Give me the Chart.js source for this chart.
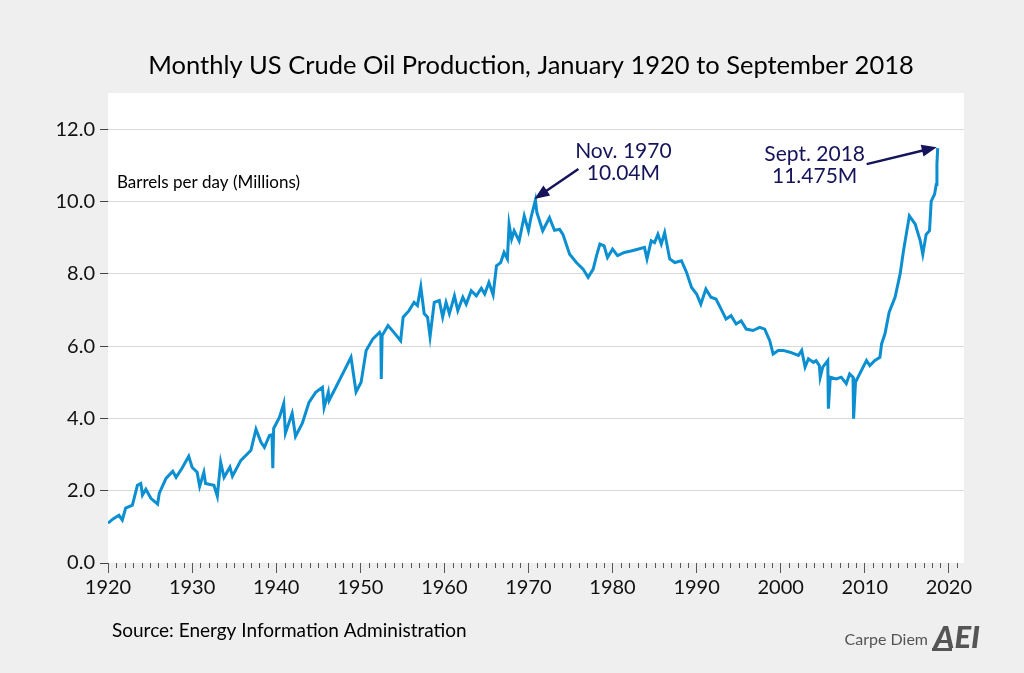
<!DOCTYPE html>
<html>
<head>
<meta charset="utf-8">
<script src="https://cdn.jsdelivr.net/npm/chart.js@4"></script>
<style>
  html, body { margin: 0; padding: 0; background: #efefef; }
  #wrap { width: 1024px; height: 673px; }
</style>
</head>
<body>
<div id="wrap"><canvas id="chart" width="1024" height="673"></canvas></div>
<script>
// monthly US crude oil production, million barrels per day
const years = [
  1920.0, 1920.6, 1921.3, 1921.7, 1922.1, 1922.9, 1923.5, 1923.9, 1924.1, 1924.5,
  1925.1, 1925.9, 1926.1, 1926.9, 1927.7, 1928.1, 1928.8, 1929.6, 1930.0, 1930.6,
  1930.9, 1931.4, 1931.6, 1932.0, 1932.6, 1933.0, 1933.4, 1933.8, 1934.5, 1934.8,
  1935.8, 1937.0, 1937.6, 1938.2, 1938.6, 1939.2, 1939.5, 1939.6, 1939.7, 1940.4,
  1940.9, 1941.1, 1941.9, 1942.3, 1943.1, 1943.9, 1944.7, 1945.5, 1945.7, 1946.2,
  1946.3, 1947.1, 1948.1, 1948.9, 1949.5, 1950.1, 1950.7, 1951.5, 1952.3, 1952.45,
  1952.5, 1952.6, 1953.3, 1954.0, 1954.8, 1955.1, 1955.8, 1956.4, 1956.8, 1957.2,
  1957.6, 1958.0, 1958.3, 1958.8, 1959.4, 1959.8, 1960.2, 1960.6, 1961.2, 1961.6,
  1962.2, 1962.6, 1963.2, 1963.8, 1964.4, 1964.8, 1965.3, 1965.8, 1966.2, 1966.7,
  1967.1, 1967.5, 1967.7, 1968.0, 1968.3, 1968.9, 1969.5, 1970.0, 1970.3, 1970.83,
  1971.0, 1971.7, 1972.5, 1973.1, 1973.7, 1974.1, 1974.9, 1975.7, 1976.5, 1977.1,
  1977.7, 1978.1, 1978.5, 1979.0, 1979.4, 1980.0, 1980.6, 1981.4, 1982.2, 1983.0,
  1983.8, 1984.1, 1984.6, 1985.0, 1985.4, 1985.8, 1986.2, 1986.8, 1987.4, 1988.2,
  1988.8, 1989.4, 1990.0, 1990.5, 1991.1, 1991.7, 1992.3, 1992.9, 1993.5, 1994.1,
  1994.7, 1995.3, 1995.9, 1996.7, 1997.5, 1998.1, 1998.7, 1999.1, 1999.7, 2000.3,
  2001.1, 2002.1, 2002.5, 2002.9, 2003.3, 2003.9, 2004.2, 2004.6, 2004.7, 2005.0,
  2005.6, 2005.67, 2005.9, 2006.6, 2007.2, 2007.8, 2008.2, 2008.6, 2008.67, 2008.9,
  2009.2, 2009.8, 2010.2, 2010.6, 2011.2, 2011.8, 2012.0, 2012.4, 2012.9, 2013.6,
  2014.2, 2014.6, 2015.2, 2015.3, 2016.0, 2016.6, 2016.9, 2017.3, 2017.7, 2017.9,
  2018.3, 2018.5, 2018.58, 2018.67
];
const production = [
  1.10, 1.22, 1.32, 1.19, 1.52, 1.60, 2.15, 2.20, 1.88, 2.04,
  1.79, 1.63, 1.93, 2.34, 2.54, 2.37, 2.62, 2.95, 2.65, 2.51,
  2.12, 2.51, 2.20, 2.18, 2.15, 1.85, 2.79, 2.37, 2.65, 2.40,
  2.84, 3.12, 3.70, 3.34, 3.20, 3.53, 3.55, 2.62, 3.72, 4.03,
  4.41, 3.59, 4.14, 3.50, 3.86, 4.44, 4.72, 4.86, 4.30, 4.72,
  4.50, 4.86, 5.32, 5.69, 4.73, 5.00, 5.88, 6.20, 6.38, 6.30,
  5.09, 6.29, 6.57, 6.38, 6.15, 6.80, 6.98, 7.21, 7.12, 7.64,
  6.90, 6.80, 6.26, 7.21, 7.26, 6.80, 7.21, 6.90, 7.39, 6.98,
  7.35, 7.16, 7.53, 7.39, 7.60, 7.44, 7.76, 7.42, 8.22, 8.31,
  8.59, 8.41, 9.37, 8.96, 9.19, 8.91, 9.60, 9.19, 9.55, 10.04,
  9.70, 9.19, 9.55, 9.20, 9.23, 9.09, 8.54, 8.31, 8.13, 7.90,
  8.13, 8.50, 8.82, 8.77, 8.45, 8.68, 8.50, 8.59, 8.63, 8.68,
  8.73, 8.41, 8.91, 8.86, 9.09, 8.82, 9.14, 8.41, 8.31, 8.36,
  8.04, 7.62, 7.44, 7.16, 7.58, 7.35, 7.30, 7.03, 6.75, 6.84,
  6.61, 6.70, 6.47, 6.43, 6.52, 6.47, 6.15, 5.78, 5.88, 5.88,
  5.83, 5.74, 5.88, 5.42, 5.65, 5.55, 5.60, 5.46, 5.14, 5.42,
  5.60, 4.27, 5.14, 5.09, 5.14, 4.96, 5.23, 5.14, 3.99, 5.00,
  5.14, 5.42, 5.60, 5.46, 5.60, 5.69, 6.06, 6.34, 6.94, 7.35,
  7.99, 8.63, 9.46, 9.60, 9.37, 8.91, 8.54, 9.09, 9.19, 10.01,
  10.20, 10.47, 11.02, 11.475
];
const yTicks = [0, 2, 4, 6, 8, 10, 12];
const xTicks = [1920, 1930, 1940, 1950, 1960, 1970, 1980, 1990, 2000, 2010, 2020];

const callouts = [
  { x: 1970.83, y: 10.04, lines: ['Nov. 1970', '10.04M'] },
  { x: 2018.67, y: 11.475, lines: ['Sept. 2018', '11.475M'] }
];

const FONT = 'Lato, "Open Sans", sans-serif';
const NAVY = '#15145a';

function arrow(ctx, x1, y1, x2, y2) {
  const a = Math.atan2(y2 - y1, x2 - x1);
  const hl = 15, hw = 6;
  ctx.beginPath();
  ctx.moveTo(x1, y1);
  ctx.lineTo(x2 - Math.cos(a) * hl * 0.8, y2 - Math.sin(a) * hl * 0.8);
  ctx.stroke();
  ctx.beginPath();
  ctx.moveTo(x2, y2);
  ctx.lineTo(x2 - Math.cos(a) * hl + Math.sin(a) * hw, y2 - Math.sin(a) * hl - Math.cos(a) * hw);
  ctx.lineTo(x2 - Math.cos(a) * hl - Math.sin(a) * hw, y2 - Math.sin(a) * hl + Math.cos(a) * hw);
  ctx.closePath();
  ctx.fill();
}

const decor = {
  id: 'decor',
  beforeDraw(chart) {
    const { ctx, chartArea: a } = chart;
    ctx.save();
    ctx.fillStyle = '#efefef';
    ctx.fillRect(0, 0, chart.width, chart.height);
    ctx.fillStyle = '#ffffff';
    ctx.fillRect(a.left, a.top, a.right - a.left, a.bottom - a.top);
    ctx.restore();
  },
  afterDraw(chart) {
    const { ctx, chartArea: a } = chart;
    const xs = chart.scales.x, ys = chart.scales.y;
    ctx.save();
    // minor year ticks
    ctx.strokeStyle = '#555';
    ctx.lineWidth = 1;
    for (let yr = 1921; yr <= 2021; yr++) {
      if (yr % 10 === 0) continue;
      const px = Math.round(xs.getPixelForValue(yr)) + 0.5;
      ctx.beginPath();
      ctx.moveTo(px, a.bottom);
      ctx.lineTo(px, a.bottom + 5);
      ctx.stroke();
    }
    // title
    ctx.fillStyle = '#000';
    ctx.textAlign = 'center';
    ctx.textBaseline = 'middle';
    ctx.font = '25.5px ' + FONT;
    ctx.fillText('Monthly US Crude Oil Production, January 1920 to September 2018', 531, 66);
    // axis unit label
    ctx.textAlign = 'left';
    ctx.font = '17px ' + FONT;
    ctx.fillText('Barrels per day (Millions)', 117, 183);
    // source
    ctx.font = '19px ' + FONT;
    ctx.fillText('Source: Energy Information Administration', 112, 631);
    // branding
    ctx.fillStyle = '#555';
    ctx.font = '16px ' + FONT;
    ctx.textAlign = 'right';
    ctx.fillText('Carpe Diem', 928, 640);
    ctx.font = 'italic 900 31px ' + FONT;
    ctx.textAlign = 'left';
    ctx.fillText('AEI', 934, 638);
    ctx.fillRect(932, 648, 20, 3);
    // callouts
    ctx.strokeStyle = NAVY;
    ctx.fillStyle = NAVY;
    ctx.lineWidth = 2.5;
    ctx.font = '21px ' + FONT;
    ctx.textAlign = 'center';
    const c1 = callouts[0], c2 = callouts[1];
    let px = xs.getPixelForValue(c1.x), py = ys.getPixelForValue(c1.y);
    ctx.fillText(c1.lines[0], px + 88, py - 49);
    ctx.fillText(c1.lines[1], px + 88, py - 27);
    arrow(ctx, px + 43, py - 31, px - 1, py - 1);
    px = xs.getPixelForValue(c2.x); py = ys.getPixelForValue(c2.y);
    ctx.fillText(c2.lines[0], px - 123, py + 6);
    ctx.fillText(c2.lines[1], px - 123, py + 28);
    arrow(ctx, px - 71, py + 16, px - 1, py - 1);
    ctx.restore();
  }
};

const points = years.map((yr, i) => ({ x: yr, y: production[i] }));

new Chart(document.getElementById('chart'), {
  type: 'line',
  data: {
    datasets: [{
      data: points,
      borderColor: '#0b8fd1',
      borderWidth: 3,
      pointRadius: 0,
      tension: 0,
      fill: false
    }]
  },
  options: {
    responsive: false,
    animation: false,
    layout: { padding: { top: 93, right: 60, left: 0, bottom: 0 } },
    plugins: { legend: { display: false }, tooltip: { enabled: false } },
    scales: {
      x: {
        type: 'linear',
        min: 1920,
        max: 2021.8,
        afterBuildTicks: s => { s.ticks = xTicks.map(v => ({ value: v })); },
        afterFit: s => { s.height = 110; },
        border: { display: false },
        grid: { drawOnChartArea: false, tickLength: 10, tickColor: '#555' },
        ticks: {
          autoSkip: false, maxRotation: 0, padding: 3,
          color: '#111', font: { family: FONT, size: 20 },
          callback: v => String(v)
        }
      },
      y: {
        min: 0,
        max: 13,
        afterBuildTicks: s => { s.ticks = yTicks.map(v => ({ value: v })); },
        afterFit: s => { s.width = 108; },
        border: { display: false },
        grid: {
          color: c => (c.tick && c.tick.value === 0) ? 'rgba(0,0,0,0)' : '#d9d9d9',
          tickColor: '#444',
          tickLength: 8
        },
        ticks: {
          padding: 5, color: '#111', font: { family: FONT, size: 20 },
          callback: v => v.toFixed(1)
        }
      }
    }
  },
  plugins: [decor]
});
</script>
</body>
</html>
